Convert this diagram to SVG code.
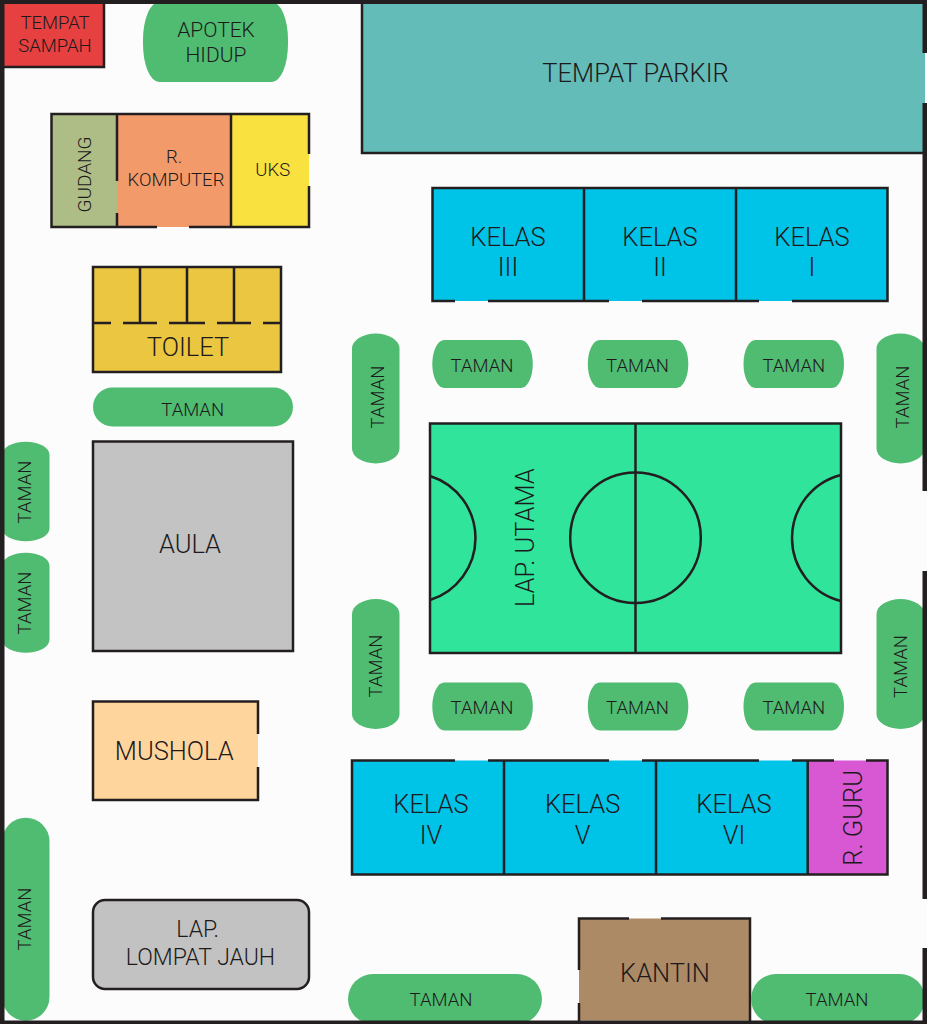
<svg xmlns="http://www.w3.org/2000/svg" width="927" height="1024" viewBox="0 0 927 1024">
<style>
text{font-family:Roboto,"Liberation Sans",sans-serif;font-weight:300;fill:#1d1a1b;text-anchor:middle}
.w{fill:none;stroke:#231f20;stroke-width:2.5}
.g{fill:#4fbc72}
.k{fill:#00c3e8}
.t{font-size:18.500px}
.m{font-size:25.500px}
</style>
<rect width="927" height="1024" fill="#fcfcfc"/>
<g id="parkir"><rect x="362" y="4" width="563" height="149" fill="#64bcb8"/><path class="w" d="M362 4V153H923"/><text class="m" x="635.500" y="82">TEMPAT PARKIR</text></g>
<g id="sampah"><rect x="4" y="4" width="100" height="63" fill="#e64040"/><path class="w" d="M104 4V67H4"/><text class="t" x="55" y="29">TEMPAT</text><text class="t" x="55" y="52">SAMPAH</text></g>
<g id="apotek"><rect class="g" x="143" y="2" width="145" height="80" rx="16" ry="38"/><text x="216" y="37" font-size="21">APOTEK</text><text x="216" y="62" font-size="21">HIDUP</text></g>
<g id="gedung-utara">
<rect x="51.500" y="114" width="65.500" height="113" fill="#adbd85"/>
<rect x="117" y="114" width="114" height="113" fill="#f39a6b"/>
<rect x="231" y="114" width="78" height="113" fill="#f9e13f"/>
<path class="w" d="M309 154V114H51.500V227H157M189 227H309V186M117 114V181M117 213V227M231 114V227"/>
<text class="t" transform="translate(90.500 174.500) rotate(-90)" style="font-size:19px">GUDANG</text>
<text class="t" x="174" y="163">R.</text><text class="t" x="176" y="186">KOMPUTER</text>
<text class="t" x="272.700" y="176">UKS</text>
</g>
<g id="toilet"><rect x="93" y="267" width="188" height="105" fill="#ebc640"/>
<path class="w" d="M93 267H281V372H93ZM140 267V323M187 267V323M234 267V323M93 323H111M123 323H157M169 323H205M217 323H251M263 323H281"/>
<text class="m" x="188" y="355.500">TOILET</text></g>
<g id="kelas-utara">
<rect class="k" x="432.500" y="188" width="455" height="113"/>
<path class="w" d="M455 301H432.500V188H887.500V301H792M759 301H642M609 301H488M584 188V301M736 188V301"/>
<text class="m" x="508" y="245.500">KELAS</text><text class="m" x="508" y="275.500">III</text>
<text class="m" x="660" y="245.500">KELAS</text><text class="m" x="660" y="275.500">II</text>
<text class="m" x="812" y="245.500">KELAS</text><text class="m" x="812" y="275.500">I</text>
</g>
<g id="taman-atas">
<rect class="g" x="432.300" y="340" width="100.500" height="48" rx="12" ry="24"/><text class="t" x="482" y="372.300">TAMAN</text>
<rect class="g" x="587.800" y="340" width="100.500" height="48" rx="12" ry="24"/><text class="t" x="637.500" y="372.300">TAMAN</text>
<rect class="g" x="743.500" y="340" width="100.500" height="48" rx="12" ry="24"/><text class="t" x="793.800" y="372.300">TAMAN</text>
</g>
<g id="taman-bawah">
<rect class="g" x="432.300" y="682.500" width="100.500" height="48" rx="12" ry="24"/><text class="t" x="482" y="714.300">TAMAN</text>
<rect class="g" x="587.800" y="682.500" width="100.500" height="48" rx="12" ry="24"/><text class="t" x="637.500" y="714.300">TAMAN</text>
<rect class="g" x="743.500" y="682.500" width="100.500" height="48" rx="12" ry="24"/><text class="t" x="793.800" y="714.300">TAMAN</text>
</g>
<g id="taman-tegak">
<rect class="g" x="352" y="333.500" width="47.500" height="130" rx="23.700" ry="15"/><text class="t" transform="translate(384 397) rotate(-90)">TAMAN</text>
<rect class="g" x="352" y="599" width="47.500" height="130" rx="23.700" ry="15"/><text class="t" transform="translate(381.700 666) rotate(-90)">TAMAN</text>
<rect class="g" x="876.500" y="333.500" width="48" height="130" rx="24" ry="15"/><text class="t" transform="translate(909 397) rotate(-90)">TAMAN</text>
<rect class="g" x="876.500" y="599" width="48" height="130" rx="24" ry="15"/><text class="t" transform="translate(906.700 666.500) rotate(-90)">TAMAN</text>
</g>
<g id="taman-kiri">
<rect class="g" x="2" y="441.700" width="47.500" height="99.500" rx="23.700" ry="13"/><text class="t" transform="translate(31 492) rotate(-90)">TAMAN</text>
<rect class="g" x="2" y="552.700" width="47.500" height="100" rx="23.700" ry="13"/><text class="t" transform="translate(31 603) rotate(-90)">TAMAN</text>
<rect class="g" x="2" y="817.700" width="47.500" height="203" rx="23.700" ry="23.700"/><text class="t" transform="translate(31 919) rotate(-90)">TAMAN</text>
</g>
<g id="taman-aula"><rect class="g" x="93" y="387.500" width="200" height="39" rx="19.500"/><text class="t" x="192.700" y="415.700">TAMAN</text></g>
<g id="aula"><rect class="w" x="93" y="441.500" width="200" height="209.500" style="fill:#c3c3c3"/><text class="m" x="190" y="553">AULA</text></g>
<g id="lap-utama">
<rect class="w" x="430" y="423.500" width="411" height="229.500" style="fill:#30e49c"/>
<path class="w" d="M635.500 423.500V653M430 476A65 65 0 0 1 430 600M841 475A65 65 0 0 0 841 601"/>
<circle class="w" cx="635.500" cy="537.700" r="65.300"/>
<text transform="translate(533.500 537.700) rotate(-90)" font-size="25.500">LAP. UTAMA</text>
</g>
<g id="mushola"><rect x="93" y="701.500" width="165" height="98.500" fill="#ffd59e"/><path class="w" d="M258 734V701.500H93V800H258V767"/><text class="m" x="174.300" y="759.500">MUSHOLA</text></g>
<g id="kelas-selatan">
<rect class="k" x="352" y="760.500" width="456" height="114"/>
<rect x="808" y="760.500" width="79.500" height="114" fill="#d858d4"/>
<path class="w" d="M455 760.500H352V874.500H887.500V760.500H866M834 760.500H792M759 760.500H642M609 760.500H488M504 760.500V874.500M656 760.500V874.500M807.700 760.500V874.500"/>
<text class="m" x="431" y="813">KELAS</text><text class="m" x="431" y="843.500">IV</text>
<text class="m" x="582.600" y="813">KELAS</text><text class="m" x="582.600" y="843.500">V</text>
<text class="m" x="734" y="813">KELAS</text><text class="m" x="734" y="843.500">VI</text>
<text class="m" transform="translate(861.500 817.800) rotate(-90)">R. GURU</text>
</g>
<g id="lompat"><rect class="w" x="93" y="900" width="216" height="89" rx="12" style="fill:#c2c2c2"/><text x="197.700" y="937" font-size="23">LAP.</text><text x="200.500" y="965" font-size="23">LOMPAT JAUH</text></g>
<g id="kantin"><rect x="579" y="918.500" width="171" height="102" fill="#ad8a66"/><path class="w" d="M579 970V918.500H629M661 918.500H750V1021M579 1003V1021"/><text class="m" x="665" y="982">KANTIN</text></g>
<g id="taman-selatan">
<rect class="g" x="348" y="974" width="194" height="50" rx="25"/><text class="t" x="441" y="1005.700">TAMAN</text>
<rect class="g" x="751" y="974" width="174" height="50" rx="25"/><text class="t" x="837" y="1005.700">TAMAN</text>
</g>
<g id="tembok" fill="#231f20">
<rect width="927" height="4"/><rect width="4.500" height="1024"/><rect y="1020.500" width="927" height="3.500"/>
<rect x="922.500" width="4.500" height="53"/><rect x="922.500" y="103" width="4.500" height="388"/><rect x="922.500" y="571" width="4.500" height="328"/><rect x="922.500" y="948" width="4.500" height="76"/>
</g>
</svg>
